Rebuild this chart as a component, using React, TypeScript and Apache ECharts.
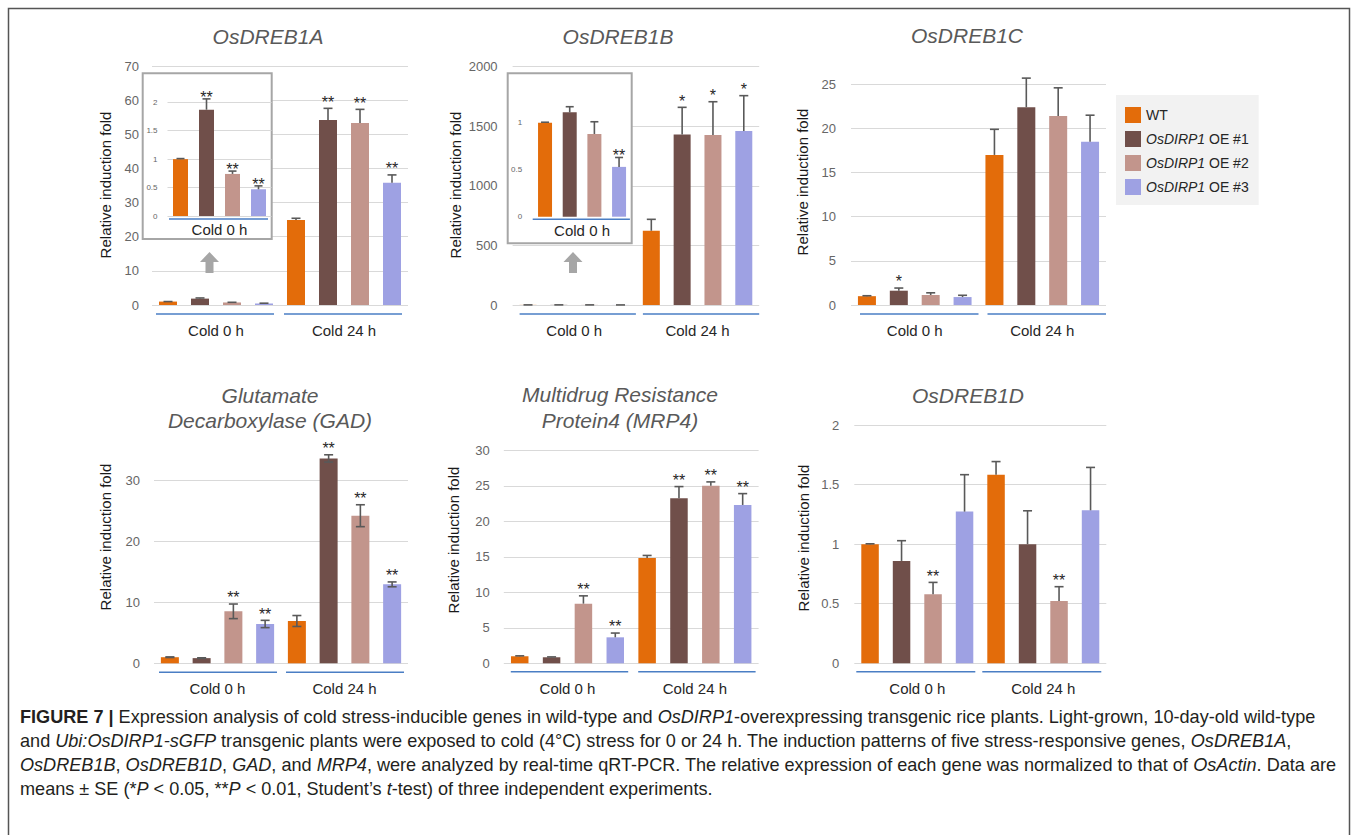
import React, { useEffect, useRef } from "react";
import * as echarts from "echarts";

const FONT = '"Liberation Sans", Arial, sans-serif';

const categories = ["Cold 0 h", "Cold 24 h"];
const insetCategories = ["Cold 0 h"];
const seriesNames = ["WT", "OsDIRP1 OE #1", "OsDIRP1 OE #2", "OsDIRP1 OE #3"];
const colors = ["#e36c0a", "#704f4a", "#c2958c", "#9ea1e3"];

// rows: WT, OE #1, OE #2, OE #3 ; columns: Cold 0 h, Cold 24 h
const dreb1aMeans = [[1.0, 24.9], [1.87, 54.2], [0.74, 53.3], [0.47, 35.8]];
const dreb1aErrors = [[0.01, 0.5], [0.19, 3.4], [0.05, 4.0], [0.06, 2.3]];
const dreb1aStars = [["", ""], ["", "**"], ["", "**"], ["", "**"]];
const dreb1aInsetStars = [[""], ["**"], ["**"], ["**"]];
const dreb1aTicks = [0, 10, 20, 30, 40, 50, 60, 70];
const dreb1aInsetTicks = [0, 0.5, 1, 1.5, 2];

const dreb1bMeans = [[1.0, 623], [1.11, 1432], [0.88, 1427], [0.53, 1460]];
const dreb1bErrors = [[0.005, 96], [0.06, 227], [0.13, 279], [0.1, 297]];
const dreb1bStars = [["", ""], ["", "*"], ["", "*"], ["", "*"]];
const dreb1bInsetStars = [[""], [""], [""], ["**"]];
const dreb1bTicks = [0, 500, 1000, 1500, 2000];
const dreb1bInsetTicks = [0, 0.5, 1];

const dreb1cMeans = [[1.0, 17.0], [1.62, 22.4], [1.13, 21.4], [0.9, 18.5]];
const dreb1cErrors = [[0.05, 2.9], [0.3, 3.3], [0.25, 3.2], [0.2, 3.0]];
const dreb1cStars = [["", ""], ["*", ""], ["", ""], ["", ""]];
const dreb1cTicks = [0, 5, 10, 15, 20, 25];

const gadMeans = [[1.0, 6.95], [0.85, 33.66], [8.54, 24.25], [6.46, 12.97]];
const gadErrors = [[0.05, 0.9], [0.05, 0.6], [1.2, 1.8], [0.6, 0.4]];
const gadStars = [["", ""], ["", "**"], ["**", "**"], ["**", "**"]];
const gadTicks = [0, 10, 20, 30];

const mrp4Means = [[1.0, 14.84], [0.85, 23.24], [8.4, 25.0], [3.66, 22.3]];
const mrp4Errors = [[0.05, 0.35], [0.05, 1.65], [1.1, 0.55], [0.6, 1.6]];
const mrp4Stars = [["", ""], ["", "**"], ["**", "**"], ["**", "**"]];
const mrp4Ticks = [0, 5, 10, 15, 20, 25, 30];

const dreb1dMeans = [[1.0, 1.583], [0.859, 1.0], [0.579, 0.523], [1.273, 1.284]];
const dreb1dErrors = [[0.003, 0.11], [0.17, 0.28], [0.1, 0.12], [0.31, 0.36]];
const dreb1dStars = [["", ""], ["", ""], ["**", "**"], ["", ""]];
const dreb1dTicks = [0, 0.5, 1, 1.5, 2];

const firstCol = (m: any[][]) => m.map((r) => [r[0]]);

type Panel = {
  title?: string[];
  titleX?: number;
  titleY?: number[];
  nameX?: number;
  nameY?: number;
  grid: { left: number; top: number; width: number; height: number };
  cats: string[];
  ticks: number[];
  axisMax?: number;
  means: number[][];
  errors: number[][];
  stars: string[][];
  barWidth: number;
  twoSided: boolean;
  tickMargin: number;
  tickSize: number;
  splitLines: boolean;
  labelMargin: number;
  starGap: number;
  under: number[];
  inset?: boolean;
};

const panels: Panel[] = [
  {
    title: ["OsDREB1A"], titleX: 268, titleY: [36], nameX: 105, nameY: 185,
    grid: { left: 152, top: 66, width: 256, height: 239 }, cats: categories,
    ticks: dreb1aTicks, means: dreb1aMeans, errors: dreb1aErrors, stars: dreb1aStars,
    barWidth: 18, twoSided: false, tickMargin: 13, tickSize: 13, splitLines: true,
    labelMargin: 17.5, starGap: 10, under: [9, 4, -6],
  },
  {
    title: ["OsDREB1B"], titleX: 618, titleY: [36], nameX: 455, nameY: 185,
    grid: { left: 512.6, top: 66.7, width: 246.6, height: 238.3 }, cats: categories,
    ticks: dreb1bTicks, means: dreb1bMeans, errors: dreb1bErrors, stars: dreb1bStars,
    barWidth: 17, twoSided: false, tickMargin: 15, tickSize: 13, splitLines: true,
    labelMargin: 17.5, starGap: 10, under: [9, 7, 0],
  },
  {
    title: ["OsDREB1C"], titleX: 967, titleY: [35], nameX: 802, nameY: 182,
    grid: { left: 851, top: 84.3, width: 255, height: 220.7 }, cats: categories,
    ticks: dreb1cTicks, means: dreb1cMeans, errors: dreb1cErrors, stars: dreb1cStars,
    barWidth: 18, twoSided: false, tickMargin: 15, tickSize: 13, splitLines: true,
    labelMargin: 17.5, starGap: 10, under: [9, 9, 0],
  },
  {
    title: ["Glutamate", "Decarboxylase (GAD)"], titleX: 270, titleY: [395, 420], nameX: 105, nameY: 537,
    grid: { left: 154, top: 444.2, width: 254, height: 219.1 }, cats: categories,
    ticks: gadTicks, axisMax: 36, means: gadMeans, errors: gadErrors, stars: gadStars,
    barWidth: 18, twoSided: true, tickMargin: 14, tickSize: 13, splitLines: true,
    labelMargin: 17.5, starGap: 10, under: [9, 5, -4],
  },
  {
    title: ["Multidrug Resistance", "Protein4 (MRP4)"], titleX: 620, titleY: [394, 420], nameX: 453, nameY: 540,
    grid: { left: 503.8, top: 450.3, width: 254.8, height: 213 }, cats: categories,
    ticks: mrp4Ticks, means: mrp4Means, errors: mrp4Errors, stars: mrp4Stars,
    barWidth: 17.5, twoSided: false, tickMargin: 14, tickSize: 13, splitLines: true,
    labelMargin: 17.5, starGap: 10, under: [8.5, 7, -3],
  },
  {
    title: ["OsDREB1D"], titleX: 968, titleY: [395], nameX: 803, nameY: 538,
    grid: { left: 854.3, top: 425, width: 252, height: 238.3 }, cats: categories,
    ticks: dreb1dTicks, means: dreb1dMeans, errors: dreb1dErrors, stars: dreb1dStars,
    barWidth: 17.5, twoSided: false, tickMargin: 15, tickSize: 13, splitLines: true,
    labelMargin: 17.5, starGap: 10, under: [8.5, 2, -5],
  },
  {
    grid: { left: 167.5, top: 102.3, width: 104, height: 113.7 }, cats: insetCategories,
    ticks: dreb1aInsetTicks, means: firstCol(dreb1aMeans), errors: firstCol(dreb1aErrors),
    stars: dreb1aInsetStars, barWidth: 15, twoSided: false, tickMargin: 10, tickSize: 8,
    splitLines: true, labelMargin: 5.8, starGap: 5.5, under: [3, 1.5, -3.5], inset: true,
  },
  {
    grid: { left: 532.7, top: 103.9, width: 98.7, height: 112.8 }, cats: insetCategories,
    ticks: dreb1bInsetTicks, axisMax: 1.2, means: firstCol(dreb1bMeans), errors: firstCol(dreb1bErrors),
    stars: dreb1bInsetStars, barWidth: 14, twoSided: false, tickMargin: 10.5, tickSize: 8,
    splitLines: false, labelMargin: 5.8, starGap: 5.5, under: [2.5, 0, -1.5], inset: true,
  },
];

const captionLines = [
  "{b|FIGURE 7 |} Expression analysis of cold stress-inducible genes in wild-type and {i|OsDIRP1}-overexpressing transgenic rice plants. Light-grown, 10-day-old wild-type",
  "and {i|Ubi:OsDIRP1-sGFP} transgenic plants were exposed to cold (4°C) stress for 0 or 24 h. The induction patterns of five stress-responsive genes, {i|OsDREB1A},",
  "{i|OsDREB1B}, {i|OsDREB1D}, {i|GAD}, and {i|MRP4}, were analyzed by real-time qRT-PCR. The relative expression of each gene was normalized to that of {i|OsActin}. Data are",
  "means ± SE (*{i|P} < 0.05, **{i|P} < 0.01, Student’s {i|t}-test) of three independent experiments.",
];
const CAP_SIZE = 18.1;

function buildOption() {
  const grids: any[] = [];
  const xAxes: any[] = [];
  const yAxes: any[] = [];
  const series: any[] = [];
  const graphics: any[] = [];

  // frame
  graphics.push({
    type: "polyline", z: 1, silent: true,
    shape: { points: [[8.5, 840], [8.5, 8.5], [1349.5, 8.5], [1349.5, 840]] },
    style: { stroke: "#555", lineWidth: 1.5, fill: null },
  });
  // inset boxes
  graphics.push({
    type: "rect", z: 1, silent: true,
    shape: { x: 142.7, y: 73.3, width: 129, height: 165.7 },
    style: { fill: "#fff", stroke: "#a6a6a6", lineWidth: 2 },
  });
  graphics.push({
    type: "rect", z: 1, silent: true,
    shape: { x: 507.7, y: 73.3, width: 124, height: 170 },
    style: { fill: "#fff", stroke: "#a6a6a6", lineWidth: 2 },
  });
  // arrows
  [209.5, 573].forEach((cx) => {
    graphics.push({
      type: "polygon", z: 1, silent: true,
      shape: {
        points: [[cx, 252], [cx + 9.5, 262], [cx + 4, 262], [cx + 4, 273], [cx - 4, 273], [cx - 4, 262], [cx - 9.5, 262]],
      },
      style: { fill: "#a6a6a6" },
    });
  });

  panels.forEach((p, g) => {
    const tickMax = p.ticks[p.ticks.length - 1];
    const interval = p.ticks[1] - p.ticks[0];
    const max = p.axisMax ?? tickMax;
    const hideMax = p.axisMax !== undefined;
    const baseZ = p.inset ? 3 : 0;
    grids.push({ ...p.grid, outerBoundsMode: "none", containLabel: false });
    xAxes.push({
      type: "category", gridIndex: g, data: p.cats, z: baseZ,
      axisLine: { show: false }, axisTick: { show: false },
      axisLabel: { fontSize: 15, color: "#262626", margin: p.labelMargin, fontFamily: FONT, interval: 0 },
      splitLine: { show: false },
    });
    yAxes.push({
      type: "value", gridIndex: g, min: 0, max, interval, z: baseZ,
      axisLine: { show: false }, axisTick: { show: false },
      splitLine: { show: p.splitLines, showMaxLine: !hideMax, lineStyle: { color: "#d9d9d9", width: 1 } },
      axisLabel: {
        fontSize: p.tickSize, color: "#666", margin: p.tickMargin, fontFamily: FONT,
        showMaxLabel: !hideMax, formatter: (v: number) => String(v),
      },
    });
    const band = p.grid.width / p.cats.length;
    const spacing = band / 4;
    const gap = ((spacing - p.barWidth) / p.barWidth) * 100;
    for (let s = 0; s < 4; s++) {
      series.push({
        type: "bar", name: seriesNames[s], xAxisIndex: g, yAxisIndex: g,
        data: p.means[s], barWidth: p.barWidth, barGap: gap.toFixed(2) + "%",
        itemStyle: { color: colors[s] }, z: baseZ + 2, silent: true,
      });
    }
    const items: any[] = [];
    for (let s = 0; s < 4; s++) {
      for (let c = 0; c < p.cats.length; c++) {
        items.push({ s, cat: c, mean: p.means[s][c], err: p.errors[s][c], star: p.stars[s][c] });
      }
    }
    const cap = p.inset ? 4 : 4.5;
    series.push({
      type: "custom", name: "err" + g, xAxisIndex: g, yAxisIndex: g, z: baseZ + 3, silent: true,
      clip: false,
      data: items.map((it) => [it.cat, it.mean + it.err]),
      renderItem: (params: any, api: any) => {
        const it = items[params.dataIndex];
        const bw = api.size([1, 0])[0];
        const c = api.coord([it.cat, it.mean]);
        const x = c[0] + (it.s - 1.5) * (bw / 4);
        const yTop = api.coord([it.cat, it.mean + it.err])[1];
        const yBot = p.twoSided ? api.coord([it.cat, it.mean - it.err])[1] : c[1];
        const ls = { stroke: "#595959", lineWidth: 1.6 };
        const children: any[] = [
          { type: "line", shape: { x1: x, y1: yTop, x2: x, y2: yBot }, style: ls },
          { type: "line", shape: { x1: x - cap, y1: yTop, x2: x + cap, y2: yTop }, style: ls },
        ];
        if (p.twoSided) {
          children.push({ type: "line", shape: { x1: x - cap, y1: yBot, x2: x + cap, y2: yBot }, style: ls });
        }
        if (it.star) {
          children.push({
            type: "text",
            style: {
              text: it.star, x, y: yTop - p.starGap + 3.7, align: "center", verticalAlign: "middle",
              fontSize: 16, fontFamily: FONT, fill: "#262626",
            },
          });
        }
        return { type: "group", children };
      },
    });
    series.push({
      type: "custom", name: "under" + g, xAxisIndex: g, yAxisIndex: g, z: baseZ + 3, silent: true,
      clip: false,
      data: p.cats.map((_, i) => [i, 0]),
      renderItem: (params: any, api: any) => {
        const bw = api.size([1, 0])[0];
        const c = api.coord([params.dataIndex, 0]);
        const y = c[1] + p.under[0];
        return {
          type: "line",
          shape: { x1: c[0] - bw / 2 + p.under[1], y1: y, x2: c[0] + bw / 2 + p.under[2], y2: y },
          style: { stroke: "#4a7ec4", lineWidth: 1.5 },
        };
      },
    });

    if (p.title) {
      p.title.forEach((t, i) => {
        graphics.push({
          type: "text", z: 10, silent: true, x: p.titleX, y: p.titleY![i],
          style: {
            text: t, fill: "#595959", fontSize: 21, fontStyle: "italic", fontFamily: FONT,
            align: "center", verticalAlign: "middle", textAlign: "center", textVerticalAlign: "middle",
          },
        });
      });
      graphics.push({
        type: "text", z: 10, silent: true, x: p.nameX, y: p.nameY, rotation: Math.PI / 2,
        style: {
          text: "Relative induction fold", fill: "#1a1a1a", fontSize: 15, fontFamily: FONT,
          align: "center", verticalAlign: "middle", textAlign: "center", textVerticalAlign: "middle",
        },
      });
    }
  });

  captionLines.forEach((line, i) => {
    graphics.push({
      type: "text", z: 10, silent: true, x: 20, y: 717 + i * 24,
      style: {
        text: line, fill: "#231f20", fontSize: CAP_SIZE, fontFamily: FONT,
        align: "left", verticalAlign: "middle", textAlign: "left", textVerticalAlign: "middle",
        rich: {
          b: { fontWeight: "bold", fontSize: CAP_SIZE, fontFamily: FONT, fill: "#231f20", color: "#231f20" },
          i: { fontStyle: "italic", fontSize: CAP_SIZE, fontFamily: FONT, fill: "#231f20", color: "#231f20" },
        },
      },
    });
  });

  return {
    animation: false,
    backgroundColor: "#ffffff",
    grid: grids,
    xAxis: xAxes,
    yAxis: yAxes,
    legend: {
      data: seriesNames,
      orient: "vertical",
      left: 1116,
      top: 95,
      padding: [12, 10, 10, 9],
      backgroundColor: "#f2f2f2",
      itemWidth: 16,
      itemHeight: 16,
      itemGap: 8,
      icon: "rect",
      selectedMode: false,
      textStyle: {
        fontSize: 14, color: "#262626", fontFamily: FONT,
        rich: { i: { fontStyle: "italic", fontSize: 14, color: "#262626", fontFamily: FONT } },
      },
      formatter: (name: string) => (name === "WT" ? "WT" : "{i|OsDIRP1}" + name.slice(7)),
    },
    graphic: { elements: graphics },
    series,
  };
}

export default function App() {
  const ref = useRef<HTMLDivElement>(null);
  useEffect(() => {
    document.body.style.margin = "0";
    if (!ref.current) return;
    const chart = echarts.init(ref.current, undefined, { renderer: "svg" });
    chart.setOption(buildOption() as any);
    return () => chart.dispose();
  }, []);
  return <div ref={ref} style={{ width: 1357, height: 835 }} />;
}
